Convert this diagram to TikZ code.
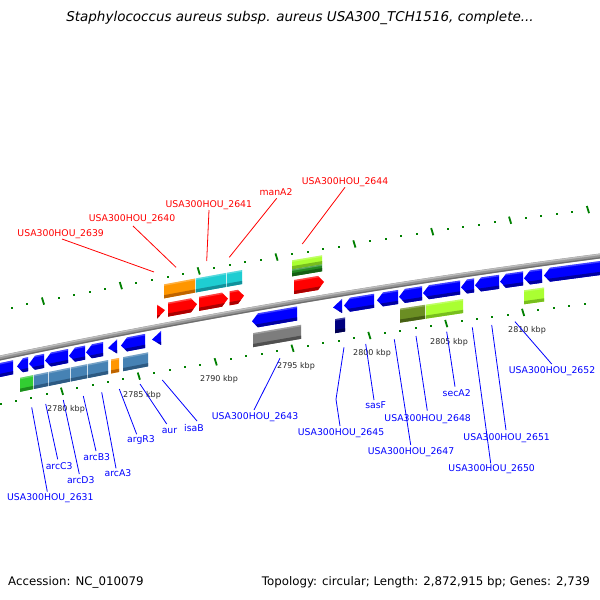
\documentclass[tikz,border=0pt]{standalone}
\usepackage{fontspec}
\setmainfont{DejaVu Sans}
\definecolor{cred}{RGB}{255,0,0}\definecolor{credd}{RGB}{170,0,0}
\definecolor{corange}{RGB}{255,150,0}\definecolor{corangd}{RGB}{190,100,0}
\definecolor{ccyan}{RGB}{30,205,210}\definecolor{ccyand}{RGB}{18,145,155}
\definecolor{clgreen}{RGB}{170,255,50}\definecolor{clgreend}{RGB}{120,190,30}
\definecolor{cdgreen}{RGB}{34,139,34}\definecolor{cdgreend}{RGB}{20,95,20}
\definecolor{cblue}{RGB}{0,0,255}\definecolor{cblued}{RGB}{0,0,160}
\definecolor{csteel}{RGB}{70,130,180}\definecolor{csteeld}{RGB}{45,90,130}
\definecolor{cgraybox}{RGB}{125,125,125}\definecolor{cgrayboxd}{RGB}{80,80,80}
\definecolor{cnavy}{RGB}{0,0,128}\definecolor{cnavyd}{RGB}{0,0,80}
\definecolor{colive}{RGB}{107,142,35}\definecolor{colived}{RGB}{70,95,20}
\definecolor{cbgreen}{RGB}{50,205,50}\definecolor{cbgreend}{RGB}{30,140,30}
\definecolor{ctick}{RGB}{0,128,0}
\definecolor{kbptext}{RGB}{40,40,40}
% #1 x1, #2 x2, #3 d1, #4 d2, #5 fill, #6 dark, #7 left head, #8 right head
\newcommand\gshape[8]{%
  \begin{scope}
    \clip ({#1+#7},{cy(#1+#7)+#3}) -- ({#2-#8},{cy(#2-#8)+#3}) -- ({#2},{cy(#2)+(#3+#4)/2})
      -- ({#2-#8},{cy(#2-#8)+#4}) -- ({#1+#7},{cy(#1+#7)+#4}) -- ({#1},{cy(#1)+(#3+#4)/2}) -- cycle;
    \fill[#5] ({#1-1},{cy(#1-1)+#3-2}) -- ({#2+1},{cy(#2+1)+#3-2}) -- ({#2+1},{cy(#2+1)+#4+2}) -- ({#1-1},{cy(#1-1)+#4+2}) -- cycle;
    \fill[#6] ({#1-1},{cy(#1-1)+#4-3.2}) -- ({#2+1},{cy(#2+1)+#4-3.2}) -- ({#2+1},{cy(#2+1)+#4+2}) -- ({#1-1},{cy(#1-1)+#4+2}) -- cycle;
    \fill[white,opacity=0.25] ({#1-1},{cy(#1-1)+#3-2}) -- ({#2+1},{cy(#2+1)+#3-2}) -- ({#2+1},{cy(#2+1)+#3+1.5}) -- ({#1-1},{cy(#1-1)+#3+1.5}) -- cycle;
  \end{scope}}
\begin{document}
\begin{tikzpicture}[x=1pt,y=-1pt,
  declare function={cy(\q)=358-0.21*\q+0.667*(\q/100)^2;},
  lbl/.style={font=\fontsize{9.3}{10}\selectfont, inner sep=0pt, anchor=base},
  redlbl/.style={lbl, text=red},
  bluelbl/.style={lbl, text=blue},
  redlead/.style={draw=red, line width=0.8pt},
  bluelead/.style={draw=blue, line width=0.8pt},
  kbp/.style={font=\fontsize{8}{9}\selectfont, text=kbptext, inner sep=0pt, anchor=base west},
  majtick/.style={draw=ctick, line width=1.8pt},
  ]
\useasboundingbox (0,0) rectangle (600,600);
\fill[white] (0,0) rectangle (600,600);
\begin{scope}
\clip (0,0) rectangle (600,600);
% tick rows
\foreach \k in {-2,...,35}{
  \pgfmathsetmacro\xx{43+15.57*\k}
  \pgfmathtruncatemacro\m{mod(\k+20,5)}
  \ifnum\m=0
    \draw[majtick] ({\xx-1.1},{cy(\xx)-48-3.6}) -- ({\xx+1.1},{cy(\xx)-48+3.6});
  \else
    \fill[ctick] ({\xx-1},{cy(\xx)-48-1}) rectangle ++(2,2);
  \fi}
\foreach \k in {-4,...,34}{
  \pgfmathsetmacro\xx{62+15.37*\k}
  \pgfmathtruncatemacro\m{mod(\k+20,5)}
  \ifnum\m=0
    \draw[majtick] ({\xx-1.1},{cy(\xx)+46-3.6}) -- ({\xx+1.1},{cy(\xx)+46+3.6});
  \else
    \fill[ctick] ({\xx-1},{cy(\xx)+46-1}) rectangle ++(2,2);
  \fi}
% backbone
\draw[line width=5pt, color={rgb,255:red,150;green,150;blue,150}] plot[domain=-5:605, samples=40] (\x,{cy(\x)});
\draw[line width=1.4pt, color={rgb,255:red,190;green,190;blue,190}] plot[domain=-5:605, samples=40] (\x,{cy(\x)-1.6});
\draw[line width=1.2pt, color={rgb,255:red,110;green,110;blue,110}] plot[domain=-5:605, samples=40] (\x,{cy(\x)+1.8});
% upper row 1 (red, forward)
\gshape{157}{165}{-22}{-8}{cred}{credd}{0}{8}
\gshape{168}{197}{-22}{-8}{cred}{credd}{0}{6}
\gshape{199}{228}{-22}{-8}{cred}{credd}{0}{6}
\gshape{229.5}{244}{-22}{-8}{cred}{credd}{0}{6}
\gshape{294}{324}{-22}{-8}{cred}{credd}{0}{6}
% upper row 2
\gshape{164}{195}{-41}{-27}{corange}{corangd}{0}{0}
\gshape{195.8}{226}{-41}{-27}{ccyan}{ccyand}{0}{0}
\gshape{226.8}{242}{-41}{-27}{ccyan}{ccyand}{0}{0}
\gshape{292}{322}{-42}{-33}{clgreen}{clgreend}{0}{0}
\gshape{292}{322}{-33}{-26}{cdgreen}{cdgreend}{0}{0}
% lower row 1 (blue, reverse)
\gshape{-8}{13}{5}{19}{cblue}{cblued}{6}{0}
\gshape{17}{28}{5}{19}{cblue}{cblued}{6}{0}
\gshape{29}{44}{5}{19}{cblue}{cblued}{6}{0}
\gshape{45}{68}{5}{19}{cblue}{cblued}{6}{0}
\gshape{69}{85}{5}{19}{cblue}{cblued}{6}{0}
\gshape{86}{103}{5}{19}{cblue}{cblued}{6}{0}
\gshape{108}{117}{5}{19}{cblue}{cblued}{9}{0}
\gshape{121}{145}{5}{19}{cblue}{cblued}{6}{0}
\gshape{152}{161}{5}{19}{cblue}{cblued}{9}{0}
\gshape{252}{297}{5}{19}{cblue}{cblued}{6}{0}
\gshape{333}{342}{5}{19}{cblue}{cblued}{9}{0}
\gshape{344}{374}{5}{19}{cblue}{cblued}{6}{0}
\gshape{377}{398}{5}{19}{cblue}{cblued}{6}{0}
\gshape{399}{422}{5}{19}{cblue}{cblued}{6}{0}
\gshape{423}{460}{5}{19}{cblue}{cblued}{6}{0}
\gshape{461}{474}{5}{19}{cblue}{cblued}{6}{0}
\gshape{475}{499}{5}{19}{cblue}{cblued}{6}{0}
\gshape{500}{523}{5}{19}{cblue}{cblued}{6}{0}
\gshape{524}{542}{5}{19}{cblue}{cblued}{6}{0}
\gshape{544}{612}{5}{19}{cblue}{cblued}{6}{0}
% lower row 2
\gshape{20}{33}{24}{38}{cbgreen}{cbgreend}{0}{0}
\gshape{33.8}{48}{24}{38}{csteel}{csteeld}{0}{0}
\gshape{48.8}{70}{24}{38}{csteel}{csteeld}{0}{0}
\gshape{70.8}{87}{24}{38}{csteel}{csteeld}{0}{0}
\gshape{87.8}{108}{24}{38}{csteel}{csteeld}{0}{0}
\gshape{111}{119}{24}{38}{corange}{corangd}{0}{0}
\gshape{123}{148}{24}{38}{csteel}{csteeld}{0}{0}
\gshape{253}{301}{24}{38}{cgraybox}{cgrayboxd}{0}{0}
\gshape{335}{345}{24}{38}{cnavy}{cnavyd}{0}{0}
\gshape{400}{425}{24}{38}{colive}{colived}{0}{0}
\gshape{425.8}{463}{24}{38}{clgreen}{clgreend}{0}{0}
\gshape{524}{544}{24}{38}{clgreen}{clgreend}{0}{0}
\end{scope}
% kbp labels
\node[kbp] (k2780) at (47,411.5) {2780 kbp};
\node[kbp] (k2785) at (123,397) {2785 kbp};
\node[kbp] (k2790) at (200,381.5) {2790 kbp};
\node[kbp] (k2795) at (277,368) {2795 kbp};
\node[kbp] (k2800) at (353,355) {2800 kbp};
\node[kbp] (k2805) at (430,344) {2805 kbp};
\node[kbp] (k2810) at (508,332.5) {2810 kbp};
% red labels and leaders
\node[redlbl] (l2639) at (60.7,236.7) {USA300HOU\_2639};
\node[redlbl] (l2640) at (132,221.7) {USA300HOU\_2640};
\node[redlbl] (l2641) at (208.8,207.4) {USA300HOU\_2641};
\node[redlbl] (lmanA2) at (276,195.7) {manA2};
\node[redlbl] (l2644) at (345,184.1) {USA300HOU\_2644};
\coordinate (a2639) at (62,239);   \coordinate (b2639) at (154,272);
\coordinate (a2640) at (133,226);  \coordinate (b2640) at (176,267.3);
\coordinate (a2641) at (209,210);  \coordinate (b2641) at (206.7,261);
\coordinate (amanA2) at (276.7,198.3); \coordinate (bmanA2) at (229.3,257.3);
\coordinate (a2644) at (345,187.3); \coordinate (b2644) at (302.3,244);
\foreach \n in {2639,2640,2641,manA2,2644}{\draw[redlead] (a\n) -- (b\n);}
% blue labels and leaders
\node[bluelbl] (l2631) at (50.3,500.7) {USA300HOU\_2631};
\node[bluelbl] (larcC3) at (59.2,469.1) {arcC3};
\node[bluelbl] (larcD3) at (80.8,483.4) {arcD3};
\node[bluelbl] (larcB3) at (96.7,460.1) {arcB3};
\node[bluelbl] (larcA3) at (118,476.7) {arcA3};
\node[bluelbl] (largR3) at (141,442.7) {argR3};
\node[bluelbl] (laur) at (169.5,433.4) {aur};
\node[bluelbl] (lisaB) at (194,431.4) {isaB};
\node[bluelbl] (l2643) at (255,419.4) {USA300HOU\_2643};
\node[bluelbl] (l2645) at (341,435.1) {USA300HOU\_2645};
\node[bluelbl] (lsasF) at (375.7,408.4) {sasF};
\node[bluelbl] (l2648) at (427.7,421.1) {USA300HOU\_2648};
\node[bluelbl] (l2647) at (411,454.1) {USA300HOU\_2647};
\node[bluelbl] (lsecA2) at (456.7,396.7) {secA2};
\node[bluelbl] (l2651) at (506.7,440.1) {USA300HOU\_2651};
\node[bluelbl] (l2650) at (491.7,471.7) {USA300HOU\_2650};
\node[bluelbl] (l2652) at (552,373.4) {USA300HOU\_2652};
\coordinate (a2631) at (31.7,407.3);  \coordinate (b2631) at (47.3,491.7);
\coordinate (aarcC3) at (45.7,404);   \coordinate (barcC3) at (57.7,459.3);
\coordinate (aarcD3) at (63.3,400);   \coordinate (barcD3) at (79.3,474);
\coordinate (aarcB3) at (83.3,396);   \coordinate (barcB3) at (96,451);
\coordinate (aarcA3) at (101.7,392.3); \coordinate (barcA3) at (116,468.3);
\coordinate (aargR3) at (119.3,389);  \coordinate (bargR3) at (136.7,434.3);
\coordinate (aaur) at (140,384);      \coordinate (baur) at (166.7,424);
\coordinate (aisaB) at (162.3,380);   \coordinate (bisaB) at (197,421);
\coordinate (a2643) at (280,358.3);   \coordinate (b2643) at (254,410);
\coordinate (asasF) at (365.7,344);   \coordinate (bsasF) at (374,400);
\coordinate (a2648) at (416,336);     \coordinate (b2648) at (427.3,410.7);
\coordinate (a2647) at (394.3,339.3); \coordinate (b2647) at (410.7,445);
\coordinate (asecA2) at (446.7,331.7); \coordinate (bsecA2) at (455,386.7);
\coordinate (a2651) at (491.7,325);   \coordinate (b2651) at (506,430);
\coordinate (a2650) at (472.3,327.3); \coordinate (b2650) at (490.7,463.3);
\coordinate (a2652) at (515,321.7);   \coordinate (b2652) at (551.7,364);
\foreach \n in {2631,arcC3,arcD3,arcB3,arcA3,argR3,aur,isaB,2643,sasF,2648,2647,secA2,2651,2650,2652}{\draw[bluelead] (a\n) -- (b\n);}
\coordinate (a2645) at (344,347.3); \coordinate (m2645) at (336,399.3); \coordinate (b2645) at (340,426);
\draw[bluelead] (a2645) -- (m2645) -- (b2645);
% title and footer
\node[font=\fontsize{13.5}{16}\selectfont\itshape, inner sep=0pt, anchor=base] (title) at (300,21.5)
  {Staphylococcus aureus subsp. aureus USA300\_TCH1516, complete...};
\node[font=\fontsize{11.8}{14}\selectfont, inner sep=0pt, anchor=base west] (acc) at (8,585.5) {Accession: NC\_010079};
\node[font=\fontsize{11.8}{14}\selectfont, inner sep=0pt, anchor=base east] (topo) at (590,585.5) {Topology: circular; Length: 2,872,915 bp; Genes: 2,739};
\end{tikzpicture}
\end{document}
